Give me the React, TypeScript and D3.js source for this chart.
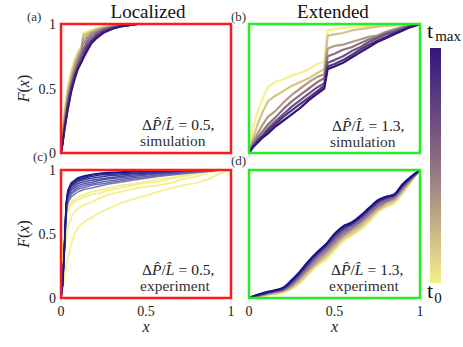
import React from "react";
import * as d3 from "d3";

// x grids shared by the curves of each panel
const gridA = [0, 0.01, 0.02, 0.04, 0.06, 0.08, 0.1, 0.12, 0.13, 0.15, 0.18, 0.21, 0.25, 0.3, 0.35, 0.4, 0.45, 1];
const gridB = [0, 0.02, 0.05, 0.08, 0.11, 0.15, 0.2, 0.25, 0.3, 0.35, 0.4, 0.44, 0.46, 0.5, 0.55, 0.6, 0.65, 0.7, 0.75, 0.8, 0.85, 0.9, 0.95, 1];
const gridC = [0, 0.01, 0.02, 0.03, 0.04, 0.06, 0.08, 0.1, 0.14, 0.18, 0.23, 0.28, 0.35, 0.42, 0.5, 0.57, 0.65, 0.72, 0.8, 0.87, 0.93, 1];
const gridD = [0, 0.05, 0.1, 0.15, 0.2, 0.25, 0.3, 0.35, 0.4, 0.45, 0.5, 0.55, 0.6, 0.65, 0.7, 0.75, 0.8, 0.85, 0.9, 0.95, 1];

// (a) localized, simulation: t0 -> tmax
const simLocalized = [
  [0, 0.18, 0.34, 0.53, 0.64, 0.73, 0.79, 0.83, 0.93, 0.94, 0.95, 0.97, 0.98, 0.99, 0.995, 1, 1, 1],
  [0, 0.16, 0.31, 0.5, 0.62, 0.71, 0.78, 0.82, 0.92, 0.93, 0.95, 0.96, 0.98, 0.99, 0.995, 1, 1, 1],
  [0, 0.14, 0.28, 0.47, 0.59, 0.69, 0.76, 0.81, 0.9, 0.92, 0.94, 0.96, 0.97, 0.985, 0.995, 1, 1, 1],
  [0, 0.13, 0.26, 0.45, 0.57, 0.67, 0.74, 0.8, 0.88, 0.9, 0.93, 0.95, 0.97, 0.98, 0.99, 1, 1, 1],
  [0, 0.11, 0.23, 0.42, 0.55, 0.64, 0.72, 0.78, 0.85, 0.88, 0.92, 0.94, 0.96, 0.98, 0.99, 0.995, 1, 1],
  [0, 0.1, 0.21, 0.4, 0.53, 0.62, 0.7, 0.76, 0.8, 0.86, 0.9, 0.93, 0.96, 0.975, 0.99, 0.995, 1, 1],
  [0, 0.09, 0.2, 0.38, 0.51, 0.61, 0.68, 0.74, 0.77, 0.84, 0.88, 0.92, 0.95, 0.97, 0.985, 0.995, 1, 1],
  [0, 0.08, 0.19, 0.37, 0.5, 0.6, 0.67, 0.72, 0.75, 0.82, 0.87, 0.91, 0.94, 0.97, 0.985, 0.99, 1, 1],
  [0, 0.08, 0.18, 0.35, 0.48, 0.58, 0.66, 0.71, 0.74, 0.8, 0.86, 0.9, 0.94, 0.965, 0.98, 0.99, 1, 1],
  [0, 0.07, 0.17, 0.33, 0.47, 0.57, 0.65, 0.7, 0.73, 0.78, 0.85, 0.89, 0.93, 0.96, 0.98, 0.99, 1, 1],
];

// (b) extended, simulation
const simExtended = [
  [0, 0.18, 0.32, 0.42, 0.51, 0.55, 0.57, 0.6, 0.62, 0.65, 0.69, 0.71, 0.95, 0.96, 0.97, 0.975, 0.98, 0.985, 0.99, 0.99, 1, 1, 1, 1],
  [0, 0.1, 0.22, 0.32, 0.4, 0.44, 0.48, 0.52, 0.55, 0.58, 0.62, 0.65, 0.91, 0.92, 0.93, 0.95, 0.96, 0.97, 0.98, 0.985, 0.99, 1, 1, 1],
  [0, 0.08, 0.15, 0.22, 0.28, 0.32, 0.39, 0.45, 0.5, 0.55, 0.59, 0.61, 0.81, 0.83, 0.84, 0.86, 0.88, 0.9, 0.91, 0.94, 0.96, 0.98, 0.99, 1],
  [0, 0.06, 0.12, 0.17, 0.22, 0.27, 0.34, 0.4, 0.45, 0.5, 0.55, 0.58, 0.75, 0.77, 0.8, 0.82, 0.85, 0.88, 0.9, 0.93, 0.95, 0.97, 0.99, 1],
  [0, 0.05, 0.1, 0.14, 0.19, 0.24, 0.3, 0.36, 0.41, 0.46, 0.51, 0.54, 0.7, 0.72, 0.75, 0.79, 0.82, 0.86, 0.89, 0.92, 0.94, 0.96, 0.98, 1],
  [0, 0.04, 0.09, 0.13, 0.17, 0.22, 0.28, 0.33, 0.38, 0.43, 0.48, 0.52, 0.67, 0.69, 0.72, 0.76, 0.8, 0.84, 0.87, 0.9, 0.93, 0.96, 0.98, 1],
  [0, 0.04, 0.08, 0.12, 0.15, 0.2, 0.25, 0.3, 0.35, 0.41, 0.46, 0.5, 0.65, 0.67, 0.7, 0.74, 0.78, 0.82, 0.86, 0.89, 0.92, 0.95, 0.98, 1],
];

// (c) localized, experiment: early (yellow) then late (navy)
const expLocalized = [
  [0, 0.08, 0.16, 0.25, 0.31, 0.42, 0.5, 0.55, 0.6, 0.63, 0.67, 0.7, 0.74, 0.77, 0.8, 0.83, 0.86, 0.88, 0.9, 0.93, 0.97, 1],
  [0, 0.2, 0.35, 0.47, 0.55, 0.63, 0.67, 0.7, 0.73, 0.75, 0.78, 0.81, 0.83, 0.85, 0.87, 0.88, 0.9, 0.93, 0.95, 0.98, 1, 1],
  [0, 0.3, 0.5, 0.62, 0.68, 0.73, 0.75, 0.77, 0.79, 0.81, 0.82, 0.84, 0.86, 0.88, 0.9, 0.91, 0.93, 0.95, 0.97, 0.99, 1, 1],
  [0, 0.34, 0.56, 0.66, 0.71, 0.75, 0.77, 0.79, 0.81, 0.83, 0.84, 0.86, 0.88, 0.89, 0.91, 0.93, 0.94, 0.96, 0.98, 0.99, 1, 1],
  [0, 0.1, 0.36, 0.64, 0.74, 0.79, 0.81, 0.83, 0.85, 0.86, 0.875, 0.89, 0.905, 0.92, 0.935, 0.95, 0.96, 0.97, 0.98, 0.99, 1, 1],
  [0, 0.1, 0.37, 0.66, 0.76, 0.81, 0.83, 0.85, 0.865, 0.88, 0.89, 0.9, 0.915, 0.93, 0.94, 0.955, 0.965, 0.975, 0.985, 0.99, 1, 1],
  [0, 0.11, 0.37, 0.67, 0.77, 0.82, 0.845, 0.865, 0.88, 0.89, 0.905, 0.915, 0.925, 0.94, 0.95, 0.96, 0.97, 0.98, 0.99, 0.995, 1, 1],
  [0, 0.11, 0.38, 0.68, 0.78, 0.84, 0.86, 0.88, 0.895, 0.905, 0.92, 0.93, 0.94, 0.95, 0.96, 0.97, 0.975, 0.985, 0.99, 0.995, 1, 1],
  [0, 0.11, 0.38, 0.7, 0.8, 0.855, 0.875, 0.895, 0.91, 0.92, 0.93, 0.94, 0.95, 0.96, 0.965, 0.975, 0.98, 0.99, 0.995, 1, 1, 1],
  [0, 0.12, 0.39, 0.71, 0.81, 0.87, 0.89, 0.91, 0.925, 0.935, 0.945, 0.955, 0.96, 0.97, 0.975, 0.98, 0.985, 0.99, 0.995, 1, 1, 1],
  [0, 0.12, 0.4, 0.72, 0.82, 0.88, 0.9, 0.92, 0.935, 0.95, 0.96, 0.965, 0.97, 0.975, 0.98, 0.985, 0.99, 0.995, 1, 1, 1, 1],
  [0, 0.12, 0.4, 0.73, 0.83, 0.89, 0.91, 0.93, 0.945, 0.96, 0.97, 0.975, 0.98, 0.985, 0.99, 0.993, 0.996, 0.998, 1, 1, 1, 1],
  [0, 0.12, 0.4, 0.74, 0.84, 0.9, 0.92, 0.94, 0.955, 0.965, 0.975, 0.98, 0.985, 0.99, 0.993, 0.995, 0.997, 0.999, 1, 1, 1, 1],
];
const expLocalizedEarly = 4;

// (d) extended, experiment
const expExtended = [
  [0, 0.01, 0.02, 0.03, 0.04, 0.07, 0.12, 0.19, 0.25, 0.3, 0.37, 0.44, 0.49, 0.53, 0.59, 0.66, 0.71, 0.74, 0.82, 0.91, 1],
  [0, 0.012, 0.025, 0.035, 0.05, 0.08, 0.13, 0.2, 0.27, 0.32, 0.39, 0.46, 0.5, 0.55, 0.61, 0.68, 0.72, 0.755, 0.83, 0.92, 1],
  [0, 0.015, 0.028, 0.04, 0.055, 0.09, 0.15, 0.22, 0.28, 0.34, 0.41, 0.48, 0.52, 0.57, 0.63, 0.69, 0.74, 0.77, 0.845, 0.925, 1],
  [0, 0.017, 0.032, 0.045, 0.06, 0.1, 0.16, 0.23, 0.3, 0.36, 0.43, 0.49, 0.54, 0.59, 0.65, 0.71, 0.75, 0.78, 0.855, 0.93, 1],
  [0, 0.019, 0.035, 0.05, 0.065, 0.11, 0.175, 0.25, 0.32, 0.38, 0.45, 0.51, 0.55, 0.6, 0.66, 0.72, 0.76, 0.79, 0.865, 0.935, 1],
  [0, 0.021, 0.038, 0.053, 0.07, 0.12, 0.19, 0.27, 0.34, 0.4, 0.47, 0.53, 0.57, 0.62, 0.68, 0.74, 0.775, 0.8, 0.875, 0.94, 1],
  [0, 0.023, 0.042, 0.057, 0.075, 0.13, 0.2, 0.28, 0.35, 0.41, 0.49, 0.545, 0.58, 0.63, 0.69, 0.75, 0.785, 0.805, 0.885, 0.945, 1],
  [0, 0.025, 0.045, 0.06, 0.08, 0.14, 0.21, 0.29, 0.36, 0.42, 0.5, 0.56, 0.59, 0.64, 0.7, 0.76, 0.79, 0.81, 0.89, 0.95, 1],
];

const yTicks = [0, 0.5, 1];
const xTicks = [0, 0.5, 1];
const tickText = ["0", "0.5", "1"];

const FONT = "'Liberation Serif', 'Times New Roman', 'DejaVu Serif', serif";
const YELLOW = "#f5f08a";
const MAUVE = "#8f7082";
const PURPLE = "#33157c";
const NAVY = "#15158a";

const simColor = d3.scaleLinear<string>().domain([0, 0.5, 1]).range([YELLOW, MAUVE, PURPLE]).interpolate(d3.interpolateRgb);
const expExtColor = d3.scaleLinear<string>().domain([0, 1]).range([YELLOW, NAVY]).interpolate(d3.interpolateLab);
const navyShade = d3.scaleLinear<string>().domain([0, 1]).range(["#7d7db8", NAVY]);

type PanelProps = {
  id: string;
  x0: number; x1: number; y0: number; y1: number;
  grid: number[];
  curves: number[][];
  colorOf: (i: number) => string;
  widthOf: (i: number) => number;
  frame: string;
  smooth?: boolean;
  ratio: string;
  kind: string;
  textX: number;
  textY: number;
};

function Panel(p: PanelProps) {
  const x = d3.scaleLinear().domain([0, 1]).range([p.x0, p.x1]);
  const y = d3.scaleLinear().domain([0, 1]).range([p.y1, p.y0]);
  const line = d3
    .line<number>()
    .x((_, i) => x(p.grid[i]))
    .y((v) => y(v))
    .curve(p.smooth ? d3.curveMonotoneX : d3.curveLinear);
  return (
    <g>
      <clipPath id={p.id}>
        <rect x={p.x0} y={p.y0} width={p.x1 - p.x0} height={p.y1 - p.y0} />
      </clipPath>
      <g clipPath={`url(#${p.id})`}>
        {p.curves.map((c, i) => (
          <path key={i} d={line(c) || ""} fill="none" stroke={p.colorOf(i)} strokeWidth={p.widthOf(i)} strokeLinejoin="round" />
        ))}
      </g>
      <rect x={p.x0} y={p.y0} width={p.x1 - p.x0} height={p.y1 - p.y0} fill="none" stroke={p.frame} strokeWidth={2.5} />
      <text x={p.textX} y={p.textY} fontFamily={FONT} fontSize={15.5} fill="#222">
        Δ<tspan fontStyle="italic">P{"\u0302"}</tspan>/<tspan fontStyle="italic">L{"\u0302"}</tspan>
        <tspan dx={4}>=</tspan>
        <tspan dx={4}>{p.ratio},</tspan>
      </text>
      <text x={p.textX - 2} y={p.textY + 16} fontFamily={FONT} fontSize={15.5} fill="#333">
        {p.kind}
      </text>
    </g>
  );
}

function YAxisLabels({ y0, y1, x }: { y0: number; y1: number; x: number }) {
  const y = d3.scaleLinear().domain([0, 1]).range([y1, y0]);
  return (
    <g fill="#222">
      {yTicks.map((t, i) => (
        <text key={i} x={x} y={y(t) + 5} fontFamily={FONT} fontSize={14} textAnchor="end">
          {tickText[i]}
        </text>
      ))}
      <text transform={`translate(29,${(y0 + y1) / 2}) rotate(-90)`} textAnchor="middle" fontFamily={FONT} fontSize={16}>
        <tspan fontStyle="italic">F</tspan>(<tspan fontStyle="italic">x</tspan>)
      </text>
    </g>
  );
}

function XAxisLabels({ x0, x1, y }: { x0: number; x1: number; y: number }) {
  const x = d3.scaleLinear().domain([0, 1]).range([x0, x1]);
  return (
    <g fill="#222">
      {xTicks.map((t, i) => (
        <text key={i} x={x(t)} y={y} fontFamily={FONT} fontSize={14} textAnchor="middle">
          {tickText[i]}
        </text>
      ))}
      <text x={(x0 + x1) / 2} y={y + 16} fontStyle="italic" fontFamily={FONT} fontSize={16} textAnchor="middle">
        x
      </text>
    </g>
  );
}

export default function App() {
  const A = { x0: 61, x1: 231 };
  const B = { x0: 249, x1: 420 };
  const top = { y0: 24, y1: 153 };
  const bot = { y0: 170, y1: 298 };
  const n = (arr: number[][]) => (i: number) => i / (arr.length - 1);
  const navyCount = expLocalized.length - expLocalizedEarly;

  return (
    <svg width={463} height={347} style={{ position: "absolute", left: 0, top: 0, background: "#fff" }}>
      <defs>
        <linearGradient id="cbar" x1="0" y1="1" x2="0" y2="0">
          {[0, 0.25, 0.5, 0.75, 1].map((t) => (
            <stop key={t} offset={t} stopColor={simColor(t)} />
          ))}
        </linearGradient>
      </defs>

      <text x={148} y={18} textAnchor="middle" fontFamily={FONT} fontSize={19} fill="#111">Localized</text>
      <text x={333} y={18} textAnchor="middle" fontFamily={FONT} fontSize={19} fill="#111">Extended</text>

      <text x={27} y={21} fontFamily={FONT} fontSize={13} fill="#333">(a)</text>
      <text x={231} y={21} fontFamily={FONT} fontSize={13} fill="#333">(b)</text>
      <text x={33} y={161} fontFamily={FONT} fontSize={13} fill="#333">(c)</text>
      <text x={231} y={165} fontFamily={FONT} fontSize={13} fill="#333">(d)</text>

      <Panel id="pa" {...A} {...top} grid={gridA} curves={simLocalized} colorOf={(i) => simColor(n(simLocalized)(i))}
        widthOf={() => 1.8} frame="#ff1a1a" ratio="0.5" kind="simulation" textX={142} textY={130} />
      <Panel id="pb" {...B} {...top} grid={gridB} curves={simExtended} colorOf={(i) => simColor(n(simExtended)(i))}
        widthOf={() => 2.2} frame="#22ee22" ratio="1.3" kind="simulation" textX={332} textY={131} />
      <Panel id="pc" {...A} {...bot} grid={gridC} curves={expLocalized}
        colorOf={(i) => (i < expLocalizedEarly ? YELLOW : navyShade((i - expLocalizedEarly) / (navyCount - 1)))}
        widthOf={(i) => (i < expLocalizedEarly ? 1.8 : 1.5)} frame="#ff1a1a" ratio="0.5" kind="experiment" textX={142} textY={275} />
      <Panel id="pd" {...B} {...bot} grid={gridD} curves={expExtended} colorOf={(i) => expExtColor(n(expExtended)(i))}
        widthOf={() => 2.2} frame="#22ee22" smooth ratio="1.3" kind="experiment" textX={331} textY={275} />

      <YAxisLabels {...top} x={56} />
      <YAxisLabels {...bot} x={56} />
      <XAxisLabels {...A} y={316} />
      <XAxisLabels {...B} y={316} />

      <rect x={430} y={48} width={11} height={235} fill="url(#cbar)" />
      <text x={427} y={38} fontFamily={FONT} fontSize={22} fill="#111">
        t<tspan fontSize={15} dx={2} dy={3}>max</tspan>
      </text>
      <text x={427} y={298} fontFamily={FONT} fontSize={22} fill="#111">
        t<tspan fontSize={15} dx={1} dy={5}>0</tspan>
      </text>
    </svg>
  );
}
